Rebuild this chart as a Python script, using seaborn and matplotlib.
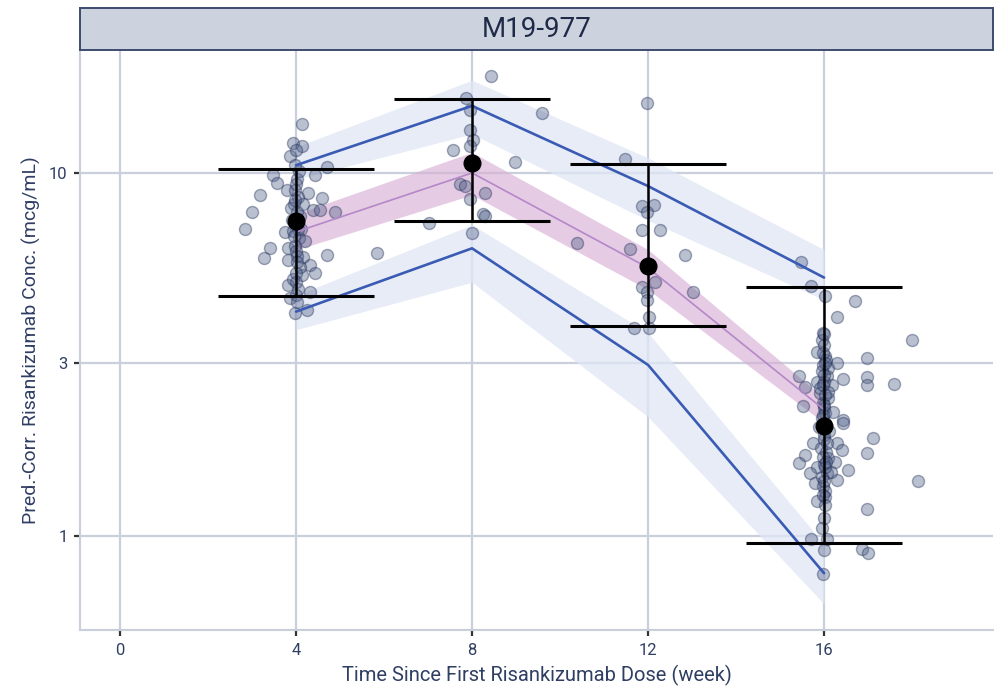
import numpy as np
import pandas as pd
import matplotlib
matplotlib.use("Agg")
import matplotlib.pyplot as plt
import seaborn as sns

sns.set_theme(style="whitegrid")
plt.rcParams['font.family'] = ['Roboto', 'DejaVu Sans']

# simulated percentiles (pred.-corr.), weeks 4/8/12/16
weeks = [4, 8, 12, 16]
p95 = [10.5, 15.3, 9.2, 5.15]
p95_lo = [9.6, 12.8, 7.4, 4.47]
p95_hi = [11.8, 18.0, 11.0, 6.15]
p50 = [6.88, 10.0, 5.48, 2.23]
p50_lo = [6.14, 8.7, 4.77, 2.05]
p50_hi = [7.71, 11.4, 6.15, 2.40]
p05 = [4.15, 6.2, 2.96, 0.79]
p05_lo = [3.7, 5.0, 2.13, 0.65]
p05_hi = [4.6, 7.2, 3.63, 0.95]

# observed summaries
obs_mean = [7.38, 10.65, 5.54, 2.01]
obs_lo = [4.58, 7.38, 3.79, 0.957]
obs_hi = [10.26, 16.0, 10.59, 4.85]

# observed (jittered) concentrations
obs_week = [4.13, 3.93, 4.14, 3.86, 4.70, 4.43, 3.48, 3.57, 3.80, 4.27, 3.18, 4.59,
            3.00, 4.39, 4.55, 4.89, 2.84, 3.75, 3.41, 3.82, 3.27, 4.70, 5.84, 4.16,
            4.32, 3.82, 4.43, 4.14, 3.82, 4.32, 3.86, 3.98, 4.25,
            4.02, 3.98, 4.05, 3.95, 4.08, 4.00, 3.92, 4.06, 3.97, 4.03, 4.10, 3.94,
            4.05, 4.00, 4.07, 3.90, 4.12, 4.15, 3.88, 4.20,
            4.00, 3.98, 4.02, 4.04, 3.96, 4.00, 4.02, 3.99, 4.01, 4.03, 3.97, 4.00,
            8.43, 7.86, 9.58, 7.95, 7.95, 8.02, 7.95, 7.56, 8.98, 7.73, 7.84, 8.30,
            7.95, 8.25, 8.30, 7.02, 7.99,
            11.98, 11.48, 11.86, 12.14, 11.98, 11.86, 12.27, 10.39, 11.58, 12.84,
            11.86, 12.16, 11.98, 11.98, 13.02, 12.03, 11.68, 12.03,
            15.47, 15.70, 16.02, 16.70, 16.29, 15.98, 15.95, 17.99, 15.83, 16.02,
            16.29, 16.97, 15.98, 15.42, 16.06, 16.44, 16.97, 16.98, 17.58, 15.83,
            16.17, 15.57, 15.91, 15.98, 15.53, 16.02, 16.44, 16.44, 17.12, 15.76,
            16.29, 16.40, 15.57, 15.42, 16.98, 16.10, 16.25, 15.83, 15.68, 16.55,
            16.06, 16.29, 18.14, 15.80, 15.98, 16.02, 15.83, 16.98, 15.70, 16.06,
            16.00, 16.86, 17.01, 15.98,
            16.00, 16.05, 15.95, 16.10, 16.00, 15.90, 16.08, 16.00, 15.95, 16.12,
            16.00, 15.92, 16.05, 16.00, 16.15, 15.95, 16.03, 16.10, 16.20, 15.88,
            16.00, 15.98, 16.02, 16.00, 15.97, 16.03, 16.00, 15.98, 16.02, 16.00,
            15.97, 16.03, 16.00, 15.98, 16.02, 16.00, 15.96, 16.04, 16.06]
obs_conc = [13.6, 12.1, 11.9, 11.1, 10.4, 9.87, 9.87, 9.39, 8.98, 8.81, 8.70, 8.53,
            7.81, 7.91, 7.91, 7.81, 7.01, 6.88, 6.22, 6.22, 5.83, 5.95, 6.02, 5.87,
            5.58, 5.75, 5.30, 5.24, 4.92, 4.70, 4.52, 4.12, 4.20,
            9.6, 9.0, 8.6, 8.2, 7.6, 7.2, 6.9, 6.6, 6.3, 5.9, 5.5, 5.1,
            4.8, 4.6, 10.1, 7.4, 7.0, 8.2, 8.0, 6.5,
            9.3, 8.4, 7.8, 7.0, 6.7, 6.1, 5.7, 5.3, 5.0, 4.4, 10.5, 11.6,
            18.5, 16.1, 14.6, 14.9, 13.1, 12.3, 11.9, 11.6, 10.7, 9.33, 9.21, 8.81,
            8.48, 7.71, 7.61, 7.28, 6.84,
            15.6, 10.9, 8.11, 8.16, 7.81, 6.97, 6.97, 6.41, 6.18, 5.95,
            4.85, 5.01, 4.70, 4.47, 4.70, 4.01, 3.74, 3.74,
            5.67, 4.89, 4.57, 4.43, 4.02, 3.62, 3.47, 3.46, 3.22, 3.13,
            3.00, 3.09, 2.96, 2.76, 2.76, 2.71, 2.75, 2.61, 2.63, 2.66,
            2.61, 2.57, 2.48, 2.32, 2.28, 2.18, 2.09, 2.05, 1.86, 1.80,
            1.80, 1.73, 1.67, 1.59, 1.69, 1.64, 1.60, 1.55, 1.49, 1.52,
            1.49, 1.43, 1.42, 1.40, 1.37, 1.28, 1.25, 1.19, 0.981, 0.983,
            0.916, 0.92, 0.90, 0.787,
            3.35, 3.05, 2.85, 2.90, 2.65, 2.55, 2.40, 2.25, 2.12, 1.95,
            1.90, 1.75, 1.70, 1.58, 1.50, 1.45, 1.33, 2.50, 2.20, 2.00,
            3.6, 3.2, 3.0, 2.78, 2.6, 2.45, 2.3, 2.15, 2.05, 1.85,
            1.65, 1.55, 1.42, 1.3, 1.22, 1.12, 1.05, 1.6, 1.8]

obs = pd.DataFrame({'week': obs_week, 'conc': obs_conc})
sim = pd.DataFrame({'week': weeks, 'p05': p05, 'p50': p50, 'p95': p95})

fig = plt.figure(figsize=(9.95, 6.96), dpi=100)
ax = fig.add_axes([0.0804, 0.0948, 0.9176, 0.8333])
ax.set_yscale('log')

# prediction intervals
ax.fill_between(weeks, p95_lo, p95_hi, color='#dfe6f5', alpha=0.75, lw=0, zorder=1)
ax.fill_between(weeks, p05_lo, p05_hi, color='#dfe6f5', alpha=0.75, lw=0, zorder=1)
ax.fill_between(weeks, p50_lo, p50_hi, color='#d7b0d5', alpha=0.65, lw=0, zorder=1)

sns.scatterplot(data=obs, x='week', y='conc', ax=ax, s=75, color='#52628a',
                alpha=0.4, edgecolor='#1e2c55', linewidth=1.0, zorder=2)

sns.lineplot(data=sim, x='week', y='p95', ax=ax, color='#3a5bb4', lw=1.9, zorder=3)
sns.lineplot(data=sim, x='week', y='p05', ax=ax, color='#3a5bb4', lw=1.9, zorder=3)
sns.lineplot(data=sim, x='week', y='p50', ax=ax, color='#b488c9', lw=1.2, zorder=3)

yerr = [np.array(obs_mean) - np.array(obs_lo), np.array(obs_hi) - np.array(obs_mean)]
ax.errorbar(weeks, obs_mean, yerr=yerr, fmt='o', color='black', ms=12,
            capsize=56, capthick=2.2, elinewidth=1.8, zorder=5)

ax.set_xlim(-0.91, 19.84)
ax.set_ylim(0.551, 21.8)
ax.set_xticks([0, 4, 8, 12, 16])
ax.set_yticks([1, 3, 10])
ax.set_yticklabels(['1', '3', '10'])
ax.minorticks_off()
ax.grid(True, color='#c9d0dc', lw=1.6)
ax.set_facecolor('white')
for s in ['top', 'right']:
    ax.spines[s].set_visible(False)
for s in ['left', 'bottom']:
    ax.spines[s].set_color('#c9d0dc')
    ax.spines[s].set_linewidth(1.5)
ax.tick_params(axis='both', length=4, width=1.6, color='#333333',
               labelcolor='#2f3e63', labelsize=12, bottom=True, left=True, pad=5)
ax.set_xlabel('Time Since First Risankizumab Dose (week)', fontsize=14.5,
              color='#2f3e63', labelpad=5)
ax.set_ylabel('Pred.-Corr. Risankizumab Conc. (mcg/mL)', fontsize=14,
              color='#2f3e63', labelpad=6)

# facet strip
strip = fig.add_axes([0.0804, 0.928, 0.9176, 0.0605])
strip.set_facecolor('#cdd3de')
strip.set_xticks([])
strip.set_yticks([])
for s in strip.spines.values():
    s.set_color('#3d4c6e')
    s.set_linewidth(1.4)
strip.text(0.5, 0.5, 'M19-977', ha='center', va='center', fontsize=20,
           color='#1e2a48', transform=strip.transAxes)

fig.savefig('out.png', dpi=100)
